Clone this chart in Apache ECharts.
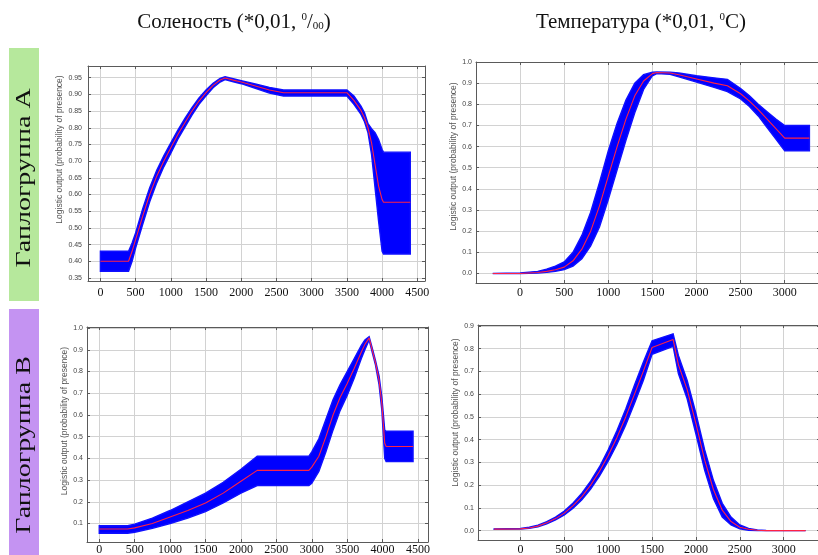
<!DOCTYPE html>
<html>
<head>
<meta charset="utf-8">
<script src="https://cdn.jsdelivr.net/npm/echarts@6/dist/echarts.min.js"></script>
<style>
html, body { margin: 0; padding: 0; background: #ffffff; }
#chart { width: 818px; height: 555px; }
</style>
</head>
<body>
<div id="chart"></div>
<script>
// Response curves (mean with confidence band) of presence probability
// Salinity, haplogroup A
const salA_x     = [0, 400, 450, 500, 600, 700, 800, 900, 1000, 1100, 1200, 1300, 1400, 1500, 1600, 1700, 1770, 1900, 2000, 2200, 2400, 2600, 3500, 3600, 3700, 3750, 3800, 3850, 3900, 3950, 4000, 4020, 4400];
const salA_mean  = [0.40, 0.40, 0.43, 0.465, 0.535, 0.60, 0.655, 0.70, 0.74, 0.78, 0.815, 0.85, 0.88, 0.905, 0.927, 0.943, 0.949, 0.942, 0.937, 0.925, 0.913, 0.905, 0.905, 0.882, 0.852, 0.83, 0.80, 0.755, 0.69, 0.625, 0.585, 0.577, 0.577];
const salA_upper = [0.43, 0.43, 0.455, 0.485, 0.557, 0.62, 0.673, 0.716, 0.755, 0.793, 0.828, 0.86, 0.889, 0.913, 0.933, 0.948, 0.953, 0.946, 0.941, 0.931, 0.921, 0.913, 0.913, 0.895, 0.865, 0.845, 0.812, 0.797, 0.785, 0.765, 0.735, 0.727, 0.727];
const salA_lower = [0.37, 0.37, 0.40, 0.44, 0.51, 0.578, 0.635, 0.683, 0.724, 0.766, 0.802, 0.838, 0.87, 0.896, 0.92, 0.937, 0.944, 0.937, 0.932, 0.918, 0.904, 0.895, 0.895, 0.87, 0.84, 0.818, 0.785, 0.72, 0.62, 0.52, 0.43, 0.422, 0.422];

// Temperature, haplogroup A
const tmpA_x     = [-310, 0, 200, 300, 400, 500, 600, 700, 800, 900, 1000, 1100, 1200, 1300, 1400, 1500, 1550, 1700, 1800, 2000, 2200, 2350, 2500, 2600, 2700, 2800, 2900, 3000, 3280];
const tmpA_mean  = [0, 0, 0.005, 0.01, 0.018, 0.03, 0.06, 0.115, 0.2, 0.32, 0.46, 0.6, 0.73, 0.84, 0.91, 0.945, 0.95, 0.948, 0.94, 0.92, 0.9, 0.888, 0.85, 0.815, 0.775, 0.73, 0.685, 0.64, 0.64];
const tmpA_upper = [0, 0.002, 0.01, 0.02, 0.035, 0.055, 0.1, 0.18, 0.29, 0.43, 0.58, 0.71, 0.82, 0.9, 0.94, 0.952, 0.953, 0.952, 0.948, 0.935, 0.925, 0.918, 0.875, 0.84, 0.8, 0.765, 0.73, 0.70, 0.70];
const tmpA_lower = [0, 0, 0.002, 0.005, 0.01, 0.018, 0.035, 0.07, 0.13, 0.22, 0.35, 0.49, 0.63, 0.76, 0.87, 0.935, 0.945, 0.942, 0.93, 0.905, 0.88, 0.86, 0.825, 0.79, 0.745, 0.69, 0.635, 0.58, 0.58];

// Salinity, haplogroup B
const salB_x     = [0, 400, 500, 750, 1000, 1250, 1500, 1750, 2000, 2230, 2960, 3000, 3100, 3200, 3300, 3400, 3500, 3600, 3700, 3750, 3810, 3860, 3900, 3950, 3990, 4030, 4050, 4430];
const salB_mean  = [0.075, 0.075, 0.08, 0.1, 0.13, 0.16, 0.195, 0.24, 0.295, 0.345, 0.345, 0.36, 0.41, 0.5, 0.6, 0.68, 0.745, 0.815, 0.89, 0.925, 0.955, 0.89, 0.84, 0.76, 0.65, 0.47, 0.455, 0.455];
const salB_upper = [0.09, 0.09, 0.097, 0.125, 0.16, 0.2, 0.24, 0.29, 0.35, 0.41, 0.41, 0.43, 0.49, 0.58, 0.67, 0.74, 0.8, 0.86, 0.92, 0.945, 0.96, 0.9, 0.85, 0.78, 0.68, 0.53, 0.525, 0.525];
const salB_lower = [0.055, 0.055, 0.06, 0.078, 0.1, 0.125, 0.155, 0.195, 0.24, 0.275, 0.275, 0.285, 0.34, 0.43, 0.53, 0.62, 0.69, 0.77, 0.86, 0.9, 0.945, 0.88, 0.83, 0.74, 0.62, 0.40, 0.385, 0.385];

// Temperature, haplogroup B
const tmpB_x     = [-300, 0, 100, 200, 300, 400, 500, 600, 700, 800, 900, 1000, 1100, 1200, 1300, 1400, 1500, 1740, 1800, 1900, 2000, 2100, 2200, 2300, 2400, 2500, 2600, 2700, 2800, 3250];
const tmpB_mean  = [0.007, 0.008, 0.012, 0.02, 0.035, 0.053, 0.077, 0.11, 0.15, 0.2, 0.26, 0.33, 0.41, 0.5, 0.6, 0.7, 0.805, 0.84, 0.73, 0.62, 0.47, 0.31, 0.18, 0.09, 0.04, 0.015, 0.006, 0.002, 0, 0];
const tmpB_upper = [0.008, 0.01, 0.015, 0.024, 0.04, 0.06, 0.086, 0.122, 0.165, 0.218, 0.28, 0.355, 0.44, 0.535, 0.64, 0.74, 0.835, 0.865, 0.77, 0.66, 0.515, 0.355, 0.22, 0.12, 0.06, 0.025, 0.01, 0.003, 0.001, 0];
const tmpB_lower = [0.006, 0.007, 0.01, 0.017, 0.03, 0.047, 0.069, 0.099, 0.136, 0.183, 0.24, 0.305, 0.38, 0.465, 0.56, 0.66, 0.775, 0.81, 0.69, 0.58, 0.425, 0.265, 0.14, 0.06, 0.025, 0.008, 0.002, 0, 0, 0];

// Tick values
const salTicks   = [0, 500, 1000, 1500, 2000, 2500, 3000, 3500, 4000, 4500];
const tmpTicks   = [0, 500, 1000, 1500, 2000, 2500, 3000];
const yTicksSalA = [0.35, 0.40, 0.45, 0.50, 0.55, 0.60, 0.65, 0.70, 0.75, 0.80, 0.85, 0.90, 0.95];
const yTicksTo10 = [0, 0.1, 0.2, 0.3, 0.4, 0.5, 0.6, 0.7, 0.8, 0.9, 1.0];
const yTicksSalB = [0.1, 0.2, 0.3, 0.4, 0.5, 0.6, 0.7, 0.8, 0.9, 1.0];
const yTicksTo09 = [0, 0.1, 0.2, 0.3, 0.4, 0.5, 0.6, 0.7, 0.8, 0.9];

const colTitles = ['Соленость', 'Температура'];
const rowTitles = ['Гаплогруппа А', 'Гаплогруппа В'];
const yName = 'Logistic output (probability of presence)';

// Panel layout
const panels = [
  { xs: salA_x, mean: salA_mean, up: salA_upper, lo: salA_lower, xTicks: salTicks, yTicks: yTicksSalA, dec: 2,
    grid: { left: 88, top: 66, width: 337, height: 215 }, x: [-176, 4609], y: [0.341, 0.985], yMargin: 6, xMargin: 6, nameGap: 20, namePad: 48 },
  { xs: tmpA_x, mean: tmpA_mean, up: tmpA_upper, lo: tmpA_lower, xTicks: tmpTicks, yTicks: yTicksTo10, dec: 1,
    grid: { left: 476, top: 62, width: 344, height: 221 }, x: [-500, 3400], y: [-0.045, 1.0], yMargin: 4, xMargin: 4, nameGap: 15, namePad: 32 },
  { xs: salB_x, mean: salB_mean, up: salB_upper, lo: salB_lower, xTicks: salTicks, yTicks: yTicksSalB, dec: 1,
    grid: { left: 87, top: 327, width: 341, height: 215 }, x: [-173, 4641], y: [0.015, 1.005], yMargin: 4, xMargin: 2, nameGap: 17, namePad: 27 },
  { xs: tmpB_x, mean: tmpB_mean, up: tmpB_upper, lo: tmpB_lower, xTicks: tmpTicks, yTicks: yTicksTo09, dec: 1,
    grid: { left: 478, top: 325, width: 342, height: 215 }, x: [-484, 3414], y: [-0.041, 0.904], yMargin: 4, xMargin: 4, nameGap: 13, namePad: 40 }
];

const frame = '#5a5a5a';
const gridLine = '#d2d2d2';

function bandRenderer(xs, lo, hi) {
  return function (params, api) {
    if (params.dataIndex !== 0) return null;
    const pts = [];
    for (let k = 0; k < xs.length; k++) pts.push(api.coord([xs[k], hi[k]]));
    for (let k = xs.length - 1; k >= 0; k--) pts.push(api.coord([xs[k], lo[k]]));
    return {
      type: 'polygon',
      shape: { points: pts },
      style: { fill: '#0000ff', stroke: '#1010ff', lineWidth: 1.4 }
    };
  };
}

const grids = [], xAxes = [], yAxes = [], series = [];
panels.forEach(function (p, i) {
  grids.push(Object.assign({ show: false, containLabel: false, outerBoundsMode: 'none' }, p.grid));
  // bottom axis with labels
  xAxes.push({
    gridIndex: i, type: 'value', position: 'bottom', min: p.x[0], max: p.x[1],
    axisLine: { show: true, onZero: false, lineStyle: { color: frame, width: 1 } },
    axisTick: { show: true, inside: true, length: 3, customValues: p.xTicks, lineStyle: { color: frame } },
    axisLabel: { customValues: p.xTicks, formatter: function (v) { return String(v); }, fontFamily: 'Liberation Serif', fontSize: 12, color: '#111', margin: p.xMargin, hideOverlap: false },
    splitLine: { show: true, lineStyle: { color: gridLine, width: 1 } }
  });
  // top frame edge
  xAxes.push({
    gridIndex: i, type: 'value', position: 'top', min: p.x[0], max: p.x[1],
    axisLine: { show: true, onZero: false, lineStyle: { color: frame, width: 1 } },
    axisTick: { show: true, inside: true, length: 3, customValues: p.xTicks, lineStyle: { color: frame } },
    axisLabel: { show: false }, splitLine: { show: false }
  });
  // left axis with labels and name
  yAxes.push({
    gridIndex: i, type: 'value', position: 'left', min: p.y[0], max: p.y[1],
    axisLine: { show: true, onZero: false, lineStyle: { color: frame, width: 1 } },
    axisTick: { show: true, inside: true, length: 3, customValues: p.yTicks, lineStyle: { color: frame } },
    axisLabel: { customValues: p.yTicks, formatter: (function (d) { return function (v) { return v.toFixed(d); }; })(p.dec),
                 fontFamily: 'Liberation Sans', fontSize: 7, color: '#444', margin: p.yMargin },
    splitLine: { show: true, lineStyle: { color: gridLine, width: 1 } },
    name: yName, nameLocation: 'middle', nameGap: p.nameGap, nameRotate: 90,
    nameTextStyle: { fontFamily: 'Liberation Sans', fontSize: 8.5, color: '#555', padding: [0, 0, 0, p.namePad] }
  });
  // right frame edge
  yAxes.push({
    gridIndex: i, type: 'value', position: 'right', min: p.y[0], max: p.y[1],
    axisLine: { show: true, onZero: false, lineStyle: { color: frame, width: 1 } },
    axisTick: { show: true, inside: true, length: 3, customValues: p.yTicks, lineStyle: { color: frame } },
    axisLabel: { show: false }, splitLine: { show: false }
  });

  series.push({
    type: 'custom', xAxisIndex: 2 * i, yAxisIndex: 2 * i, silent: true, z: 3,
    renderItem: bandRenderer(p.xs, p.lo, p.up),
    encode: { x: 0, y: [1, 2] },
    data: p.xs.map(function (x, k) { return [x, p.lo[k], p.up[k]]; })
  });
  series.push({
    type: 'line', xAxisIndex: 2 * i, yAxisIndex: 2 * i, silent: true, z: 4,
    showSymbol: false, symbol: 'none',
    lineStyle: { color: '#ff2244', width: 1.1 },
    data: p.xs.map(function (x, k) { return [x, p.mean[k]]; })
  });
});

const headFont = 'Liberation Serif';
const graphics = [
  { type: 'rect', shape: { x: 9, y: 48, width: 30, height: 253 }, style: { fill: '#b6e89c' }, silent: true },
  { type: 'rect', shape: { x: 9, y: 309, width: 30, height: 250 }, style: { fill: '#c493f2' }, silent: true },
  {
    type: 'text', x: 25, y: 178, rotation: Math.PI / 2, scaleY: 0.72, silent: true,
    style: { text: rowTitles[0], fontFamily: headFont, fontSize: 28, fill: '#111', align: 'center', verticalAlign: 'middle' }
  },
  {
    type: 'text', x: 25, y: 445, rotation: Math.PI / 2, scaleY: 0.72, silent: true,
    style: { text: rowTitles[1], fontFamily: headFont, fontSize: 28, fill: '#111', align: 'center', verticalAlign: 'middle' }
  },
  {
    type: 'text', x: 234, y: 22, silent: true,
    style: {
      text: '{a|' + colTitles[0] + ' (*0,01, }{s|0}{a|/}{b|00}{a|)}',
      align: 'center', verticalAlign: 'middle',
      rich: {
        a: { fontFamily: headFont, fontSize: 21, lineHeight: 26, fill: '#111', verticalAlign: 'middle' },
        s: { fontFamily: headFont, fontSize: 11, lineHeight: 26, fill: '#111', verticalAlign: 'top', padding: [3, 0, 0, 0] },
        b: { fontFamily: headFont, fontSize: 11, lineHeight: 26, fill: '#111', verticalAlign: 'bottom', padding: [0, 0, 3, 0] }
      }
    }
  },
  {
    type: 'text', x: 641, y: 22, silent: true,
    style: {
      text: '{a|' + colTitles[1] + ' (*0,01, }{s|0}{a|C)}',
      align: 'center', verticalAlign: 'middle',
      rich: {
        a: { fontFamily: headFont, fontSize: 21, lineHeight: 26, fill: '#111', verticalAlign: 'middle' },
        s: { fontFamily: headFont, fontSize: 11, lineHeight: 26, fill: '#111', verticalAlign: 'top', padding: [3, 0, 0, 0] }
      }
    }
  }
];

const chart = echarts.init(document.getElementById('chart'), null, { renderer: 'canvas' });
chart.setOption({
  backgroundColor: '#ffffff',
  animation: false,
  grid: grids,
  xAxis: xAxes,
  yAxis: yAxes,
  series: series,
  graphic: graphics
});
</script>
</body>
</html>
